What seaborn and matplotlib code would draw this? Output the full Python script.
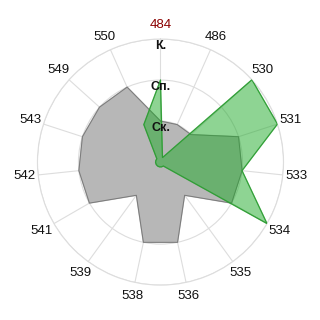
import numpy as np
import matplotlib
matplotlib.use("Agg")
import matplotlib.pyplot as plt
import seaborn as sns

categories = ['484', '486', '530', '531', '533', '534', '535', '536',
              '538', '539', '541', '542', '543', '549', '550']
gray_values = [1, 1, 1, 2, 2, 2, 1, 2, 2, 1, 2, 2, 2, 2, 2]
green_values = [2, 0.12, 3, 3, 2, 3, 0.12, 0.12, 0.12, 0.12, 0.12, 0.12, 0.12, 0.12, 1]
level_values = [1, 2, 3]
level_labels = ['Ск.', 'Сп.', 'К.']

sns.set_style("white")
plt.rcParams['font.family'] = ['Liberation Sans', 'DejaVu Sans']

fig = plt.figure(figsize=(3.2, 3.2), dpi=100)
ax = fig.add_axes([0.117, 0.109, 0.769, 0.769], projection='polar')
ax.set_theta_zero_location('N')
ax.set_theta_direction(-1)

n = len(categories)
angles = np.linspace(0, 2 * np.pi, n, endpoint=False)
ang_c = np.concatenate([angles, angles[:1]])

g = np.concatenate([gray_values, gray_values[:1]])
ax.fill(ang_c, g, color='#b7b7b7', alpha=1, zorder=2)
ax.plot(ang_c, g, color='#7a7a7a', lw=0.7, zorder=3)

gr = np.concatenate([green_values, green_values[:1]])
ax.fill(ang_c, gr, color=(0.12, 0.67, 0.16), alpha=0.5, zorder=4)
ax.plot(ang_c, gr, color='#2f9a34', lw=0.7, zorder=5)

ax.set_ylim(0, 3)
ax.set_yticks(level_values)
ax.set_yticklabels([])
ax.set_xticks(angles)
ax.set_xticklabels(categories, fontsize=9.5)
for lbl, c in zip(ax.get_xticklabels(), categories):
    lbl.set_color('#8b0000' if c == '484' else '#111111')
ax.tick_params(axis='x', pad=-0.5)
ax.grid(True, color='#dddddd', lw=0.8)
ax.spines['polar'].set_color('#dddddd')
ax.spines['polar'].set_linewidth(0.8)

for v, t in zip(level_values, level_labels):
    ax.text(0, v - 0.17, t, ha='center', va='center', fontsize=9,
            fontweight='bold', color='#111111', zorder=10)

fig.savefig('out.png', dpi=100)
